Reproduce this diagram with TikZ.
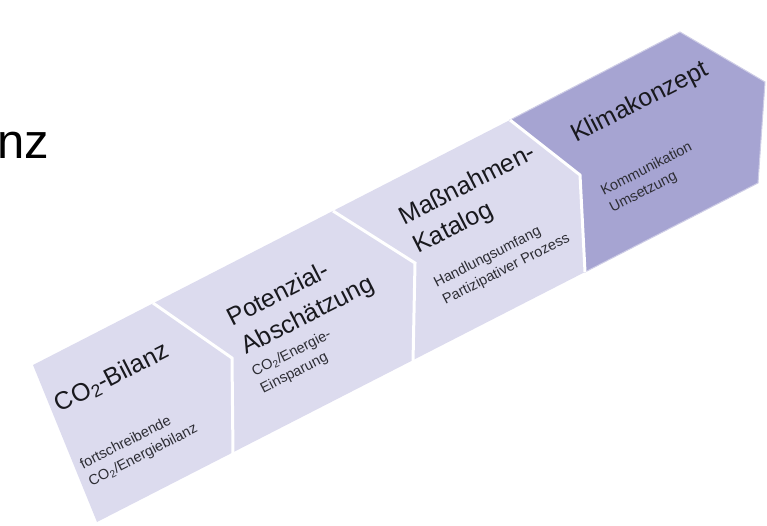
\documentclass[tikz,border=0pt]{standalone}
\usepackage{fontspec}
\setmainfont{Liberation Sans}
\usetikzlibrary{positioning}
\definecolor{bandlight}{RGB}{220,219,238}
\definecolor{banddark}{RGB}{166,164,210}
\definecolor{titlecol}{RGB}{25,25,30}
\definecolor{notecol}{RGB}{45,45,52}
\tikzset{
  segtitle/.style={font=\fontsize{25}{32}\selectfont, text=titlecol, align=left, rotate=27, inner sep=0pt},
  segnote/.style={font=\fontsize{14.5}{19}\selectfont, text=notecol, align=left, rotate=27, inner sep=0pt},
  seam/.style={white, line width=3pt, line join=miter}
}

\begin{document}
\begin{tikzpicture}[x=1pt,y=-1pt]
		\useasboundingbox (0,0) rectangle (767,525);
			% corners of the band
			\coordinate (tl) at (33,365);
			\coordinate (bl) at (97,522);
			\coordinate (s1a) at (153,303);
			\coordinate (s1b) at (232,358);
			\coordinate (s1c) at (233,454);
			\coordinate (s2a) at (333,211);
			\coordinate (s2b) at (415,263);
			\coordinate (s2c) at (413,362);
			\coordinate (s3a) at (510,120);
			\coordinate (s3b) at (580,175);
			\coordinate (s3c) at (585,272);
			\coordinate (tipa) at (680,32);
			\coordinate (tipb) at (765,82);
			\coordinate (tipc) at (758,183);

			%light part:
			\fill[bandlight] (tl) -- (s3a) -- (s3b) -- (s3c) -- (bl) -- cycle;
			%dark part:
			\filldraw[fill=banddark, draw=banddark!55!white, line width=1pt] (s3a) -- (tipa) -- (tipb) -- (tipc) -- (s3c) -- (s3b) -- cycle;

			%seams:
			\draw[seam] (s1a) -- (s1b) -- (s1c);
			\draw[seam] (s2a) -- (s2b) -- (s2c);
			\draw[seam] (s3a) -- (s3b) -- (s3c);

			%titles
			\node[segtitle] (co2) at (112,378) {CO\textsubscript{2}-Bilanz};
			\node[segtitle] (pot) at (301,302) {Potenzial-\\Absch\"atzung};
			\node[segtitle] (mass) at (475,200) {Ma\ss nahmen-\\Katalog};
			\node[segtitle] (klima) at (640,103) {Klimakonzept};

			%notes
			\node[segnote] (co2note) at (139,447) {fortschreibende\\CO\textsubscript{2}/Energiebilanz};
			\node[segnote] (potnote) at (296,362) {CO\textsubscript{2}/Energie-\\Einsparung};
			\node[segnote] (massnote) at (502,261) {Handlungsumfang\\Partizipativer Prozess};
			\node[segnote] (klimanote) at (651,178) {Kommunikation\\Umsetzung};

			%cut text at the edge
			\node[anchor=base west, inner sep=0pt, font=\fontsize{49}{58}\selectfont] (cut) at (-3,158) {nz};
	\end{tikzpicture}
\end{document}
